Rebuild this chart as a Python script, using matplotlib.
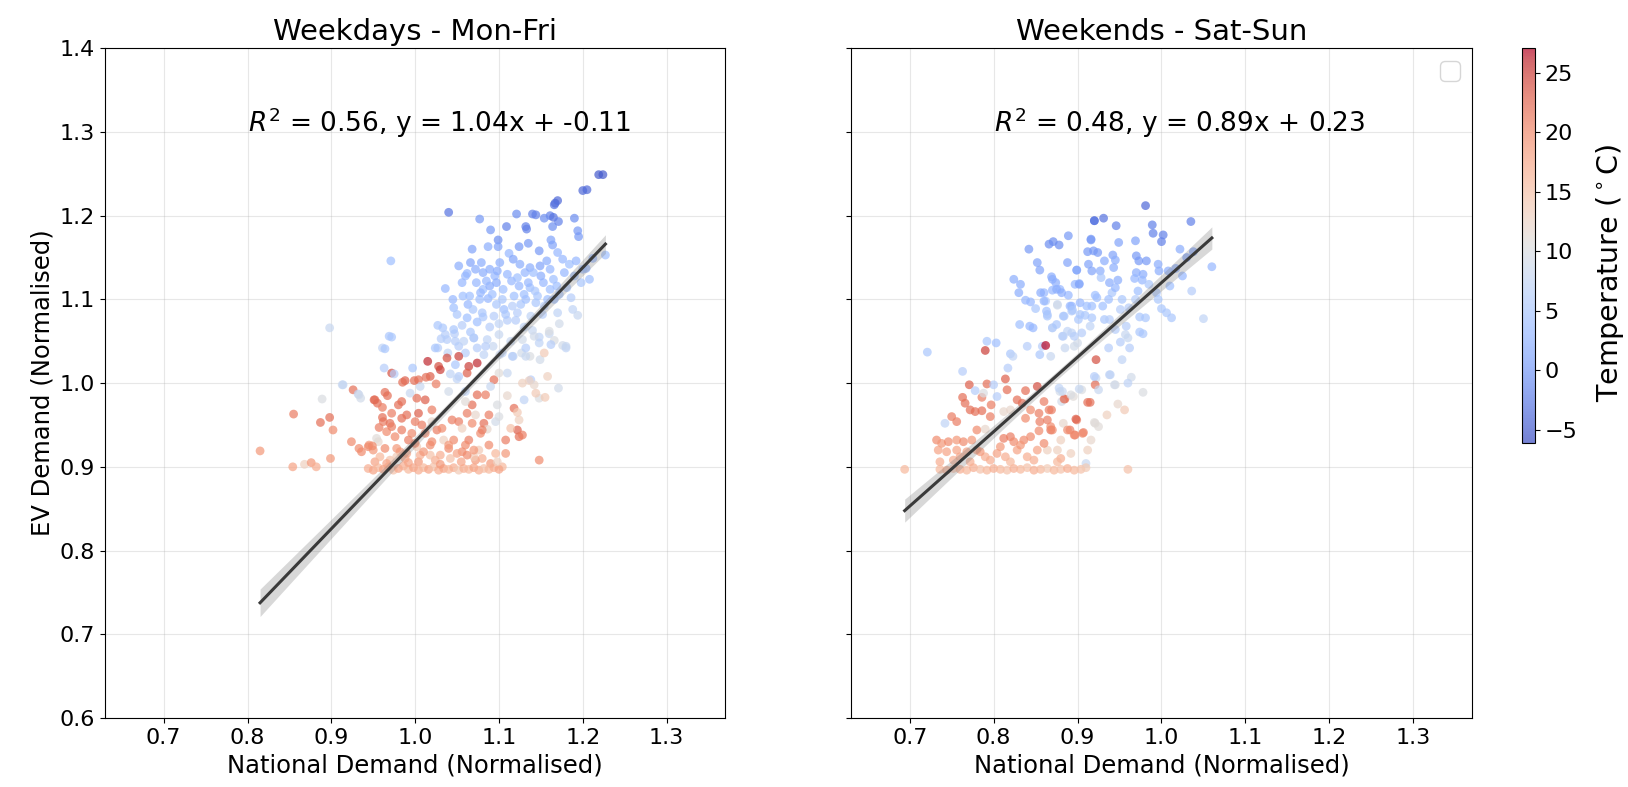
import numpy as np
import matplotlib
matplotlib.use('Agg')
import matplotlib.pyplot as plt

# Weekdays (Mon-Fri): national demand, EV demand, temperature
wd_x = [1.219,1.224,1.200,1.205,1.167,1.170,1.166,1.040,1.077,1.121,
        1.140,1.144,1.161,1.165,1.190,1.109,1.090,1.132,1.133,1.154,
        1.164,1.171,1.194,1.195,1.099,1.099,1.135,1.124,1.162,1.164,
        1.068,1.087,1.112,1.148,1.170,1.227,1.212,1.204,1.052,1.066,
        1.079,1.081,1.089,1.095,1.101,1.117,1.125,1.131,1.137,1.141,
        1.149,1.157,1.161,1.176,1.184,1.192,1.190,1.198,1.208,1.062,
        1.056,1.036,1.073,1.081,1.089,1.097,1.105,1.115,1.124,1.137,
        1.143,1.153,1.161,1.169,1.181,1.045,1.046,1.057,1.063,1.069,
        1.077,1.087,1.097,1.106,1.116,1.126,1.132,1.144,1.154,1.166,
        1.188,1.194,1.027,1.033,1.056,1.066,1.074,1.081,1.089,1.100,
        1.110,1.120,1.130,1.140,1.148,1.160,1.172,1.176,1.166,1.047,
        1.048,1.031,0.969,0.961,0.971,0.898,1.027,1.039,1.060,1.074,
        1.082,1.093,1.101,1.117,1.127,1.137,1.149,1.180,1.154,1.132,
        1.116,1.015,1.028,1.018,1.038,1.052,1.064,1.074,1.062,1.048,
        1.052,1.094,1.100,1.110,1.128,1.138,1.158,1.171,1.148,1.130,
        1.144,1.074,1.084,1.090,1.060,1.068,1.098,1.118,1.088,1.072,
        1.062,1.052,1.082,1.096,1.124,1.122,1.124,1.108,1.114,1.078,
        1.064,1.046,1.088,1.096,1.108,1.076,1.056,1.040,1.072,1.090,
        1.104,1.148,0.935,0.955,0.967,0.972,0.963,0.964,0.972,0.988,
        1.004,1.002,1.012,0.984,0.994,1.006,0.980,0.972,0.962,0.970,
        0.990,1.004,1.020,1.000,0.984,0.966,0.956,0.976,0.992,1.012,
        1.026,0.936,0.950,0.964,0.982,1.002,1.018,1.034,0.952,0.970,
        0.988,1.004,1.024,0.985,0.999,1.013,1.025,0.914,0.926,0.932,
        0.951,0.964,0.889,0.855,0.887,0.898,0.902,0.815,0.924,0.933,
        0.945,0.899,0.854,0.868,0.876,0.882,0.913,0.933,0.944,0.949,
        0.952,0.957,0.961,0.961,0.954,0.975,0.997,1.042,1.050,1.030,
        0.944,0.950,0.956,0.962,0.968,0.974,0.980,0.986,0.992,0.998,
        1.004,1.010,1.016,1.022,1.028,1.034,1.040,1.046,1.052,1.058,
        1.064,1.070,1.076,1.082,1.088,1.094,1.100,0.958,1.018,1.070,
        0.966,0.978,0.992,1.006,1.030,1.042,1.055,1.062,1.080,1.098,
        1.110,1.122,1.136,1.142,1.155,1.128,1.100,1.086,1.060,1.040,
        1.024,1.038,1.070,1.052,1.084,1.104,1.132,1.148,1.162,1.180,
        1.060,1.072,1.085,1.098,1.110,1.122,1.135,1.150,1.165,1.178,
        1.065,1.078,1.092,1.104,1.118,1.130,1.146,1.158,1.172,1.186,
        1.050,1.062,1.080,1.094,1.108,1.122,1.138,1.152,1.170,1.200,
        1.036,1.046,1.058,1.070,1.086,1.100,1.114,1.128,1.142,1.160,
        0.978,0.990,1.000,1.010,1.020,1.030,1.040,1.050,1.060,1.070,
        0.972,0.984,0.996,1.008,1.020,1.032,1.044,1.056,1.068,1.080]
wd_y = [1.249,1.249,1.230,1.231,1.215,1.218,1.213,1.204,1.196,1.202,
        1.202,1.201,1.200,1.198,1.197,1.187,1.183,1.187,1.184,1.197,
        1.187,1.193,1.182,1.175,1.171,1.163,1.167,1.163,1.171,1.165,
        1.160,1.163,1.155,1.158,1.156,1.153,1.149,1.137,1.140,1.144,
        1.144,1.132,1.136,1.128,1.144,1.148,1.142,1.132,1.138,1.132,
        1.140,1.146,1.136,1.148,1.142,1.146,1.128,1.120,1.124,1.131,
        1.120,1.113,1.120,1.112,1.116,1.120,1.112,1.122,1.116,1.114,
        1.110,1.120,1.112,1.116,1.114,1.100,1.090,1.104,1.094,1.088,
        1.100,1.101,1.094,1.088,1.092,1.094,1.100,1.096,1.092,1.100,
        1.088,1.081,1.069,1.066,1.069,1.061,1.073,1.079,1.067,1.071,
        1.075,1.075,1.067,1.063,1.055,1.059,1.071,1.045,1.051,1.059,
        1.050,1.053,1.056,1.042,1.146,1.066,1.042,1.036,1.036,1.042,
        1.034,1.044,1.034,1.032,1.036,1.032,1.028,1.042,1.036,1.042,
        1.032,1.026,1.020,1.008,1.030,1.032,1.020,1.024,1.012,1.022,
        1.008,1.004,1.012,1.012,1.000,1.004,1.008,0.994,0.982,0.980,
        0.988,0.986,0.986,0.996,0.990,0.974,0.974,0.970,0.962,0.962,
        0.964,0.954,0.952,0.954,0.956,0.944,0.936,0.932,0.946,0.940,
        0.932,0.932,0.926,0.916,0.916,0.920,0.918,0.922,0.908,0.904,
        0.900,0.908,0.982,0.976,0.985,1.012,1.018,1.041,1.055,1.003,
        1.004,0.982,0.980,0.978,0.988,0.996,0.974,0.964,0.954,0.952,
        0.962,0.964,0.968,0.954,0.944,0.942,0.930,0.936,0.932,0.940,
        0.944,0.918,0.920,0.922,0.918,0.924,0.926,0.932,0.906,0.908,
        0.910,0.906,0.908,1.001,1.003,1.007,0.999,0.998,0.992,0.987,
        0.980,0.989,0.981,0.963,0.953,0.959,0.944,0.919,0.930,0.922,
        0.926,0.910,0.900,0.903,0.905,0.900,0.998,0.986,0.924,0.925,
        0.980,0.947,0.959,0.971,0.934,1.011,1.018,1.011,1.005,1.016,
        0.898,0.896,0.899,0.897,0.900,0.896,0.898,0.901,0.897,0.899,
        0.896,0.899,0.897,0.900,0.896,0.898,0.897,0.899,0.896,0.898,
        0.897,0.899,0.896,0.898,0.897,0.899,0.897,0.912,0.914,0.912,
        0.904,0.912,0.905,0.914,0.903,0.910,0.906,0.914,0.910,0.906,
        0.985,0.965,1.003,0.998,0.983,0.938,0.960,0.945,0.978,0.990,
        1.042,1.052,1.054,1.044,1.044,1.036,1.032,1.048,1.046,1.044,
        1.128,1.136,1.122,1.134,1.130,1.126,1.120,1.128,1.124,1.132,
        1.104,1.108,1.106,1.100,1.104,1.106,1.104,1.100,1.106,1.102,
        1.082,1.078,1.084,1.080,1.082,1.084,1.080,1.082,1.084,1.136,
        1.058,1.064,1.050,1.054,1.052,1.058,1.050,1.052,1.056,1.062,
        0.922,0.916,0.928,0.918,0.930,0.914,0.926,0.916,0.926,0.920,
        0.948,0.958,0.940,0.950,0.954,0.946,0.956,0.946,0.952,0.944]
wd_t = [-5,-5,-4,-4,-4,-4,-3,-3,0,-1,
        -2,-2,-2,-3,-1,-2,0,-2,-2,-1,
        -1,-2,0,0,-1,1,0,0,1,1,
        1,2,3,0,3,4,3,3,2,1,
        2,2,2,3,2,1,2,3,2,4,
        1,2,3,3,4,3,4,5,4,3,
        3,3,3,4,2,2,4,3,3,4,
        5,3,4,4,5,3,4,4,3,5,
        4,3,5,4,6,5,4,5,6,4,
        7,8,5,5,6,5,4,5,6,7,
        6,6,7,8,7,8,9,9,10,6,
        6,6,5,7,4,8,6,7,6,6,
        7,8,9,8,9,10,9,7,14,6,
        6,26,24,23,24,25,25,26,23,5,
        6,22,11,8,13,6,13,9,10,7,
        14,22,21,8,7,22,10,22,21,12,
        21,21,22,9,13,23,22,21,15,20,
        21,20,20,16,19,14,20,20,19,19,
        16,20,9,22,22,24,6,5,5,23,
        22,22,23,22,8,8,22,21,21,22,
        22,23,21,21,21,20,12,20,21,20,
        21,20,19,20,19,14,20,13,18,15,
        18,19,17,22,22,22,21,7,22,7,
        23,22,10,21,22,22,20,19,20,20,
        19,19,18,13,19,17,8,9,20,20,
        22,21,22,21,11,6,5,7,7,25,
        17,18,16,18,17,15,18,17,16,18,
        17,16,18,15,17,18,16,17,14,17,
        16,18,17,15,16,17,18,16,15,14,
        18,14,18,17,19,15,18,20,17,13,
        12,14,13,12,14,21,10,12,11,9,
        5,6,5,6,6,7,8,7,6,8,
        3,2,3,2,3,4,3,2,4,3,
        4,3,4,5,4,4,5,4,5,6,
        5,4,5,6,5,6,7,6,7,4,
        6,5,7,6,7,8,8,9,9,10,
        19,18,20,19,20,17,19,18,20,19,
        21,22,20,21,12,20,21,13,20,21]

# Weekends (Sat-Sun)
we_x = [0.981,0.920,0.931,0.946,0.989,0.990,1.002,1.000,1.035,0.889,
        0.866,0.871,0.916,0.949,0.969,1.022,1.038,1.030,0.912,0.924,
        0.942,0.970,0.973,0.982,0.888,0.913,0.917,0.932,0.945,0.927,
        0.943,0.970,0.978,0.996,0.997,1.008,1.017,1.060,0.869,0.874,
        0.899,0.897,0.902,0.938,0.948,0.968,0.977,0.928,0.860,0.870,
        0.879,0.889,0.921,0.923,0.941,1.036,0.994,0.862,0.876,0.893,
        0.903,0.917,0.937,0.953,0.969,0.864,0.884,0.893,0.903,0.917,
        0.932,0.951,0.961,1.000,1.012,1.006,1.050,0.974,0.981,0.870,
        0.883,0.893,0.938,0.945,0.957,0.960,0.974,0.978,0.858,0.868,
        0.885,0.896,0.900,0.937,0.951,0.962,0.953,0.922,0.862,0.939,
        0.964,0.922,0.921,0.945,0.978,0.925,0.905,0.895,0.885,0.915,
        0.879,0.881,0.860,0.869,0.899,0.921,0.883,0.864,0.891,0.907,
        0.897,0.868,0.721,0.763,0.790,0.792,0.803,0.820,0.823,0.817,
        0.814,0.831,0.843,0.847,0.840,0.855,0.842,0.852,0.855,0.878,
        0.824,0.832,0.830,0.838,0.844,0.850,0.856,0.860,0.863,0.870,
        0.875,0.881,0.899,0.902,0.916,0.919,0.920,0.876,0.891,0.911,
        0.864,0.870,0.875,0.883,0.894,0.882,0.888,0.896,0.901,0.909,
        0.694,0.771,0.792,0.800,0.778,0.763,0.766,0.772,0.786,0.788,
        0.816,0.838,0.852,0.828,0.834,0.804,0.797,0.750,0.756,0.778,
        0.786,0.796,0.812,0.820,0.854,0.855,0.866,0.844,0.838,0.884,
        0.912,0.898,0.920,0.878,0.882,0.892,0.902,0.920,0.938,0.944,
        0.960,0.742,0.732,0.738,0.746,0.756,0.764,0.774,0.780,0.790,
        0.812,0.820,0.824,0.836,0.844,0.854,0.868,0.870,0.888,0.896,
        0.906,0.916,0.880,0.876,0.734,0.744,0.756,0.768,0.780,0.790,
        0.804,0.814,0.828,0.840,0.852,0.864,0.880,0.892,0.912,0.910,
        0.736,0.752,0.736,0.744,0.752,0.760,0.768,0.776,0.784,0.792,
        0.800,0.808,0.816,0.824,0.832,0.840,0.848,0.856,0.864,0.872,
        0.880,0.888,0.896,0.904,0.910,0.960,0.925,0.935,0.948,0.956,
        0.760,0.772,0.784,0.796,0.808,0.820,0.832,0.848,0.860,0.876,
        0.905,0.915,0.930,0.945,0.958,0.972,0.985,0.996,1.010,1.025]
we_y = [1.212,1.194,1.197,1.188,1.189,1.179,1.177,1.169,1.193,1.176,
        1.166,1.169,1.172,1.168,1.170,1.160,1.157,1.150,1.157,1.156,
        1.153,1.152,1.146,1.146,1.144,1.142,1.134,1.146,1.147,1.134,
        1.138,1.132,1.130,1.142,1.134,1.134,1.137,1.139,1.127,1.120,
        1.135,1.118,1.119,1.120,1.123,1.125,1.123,1.126,1.108,1.111,
        1.112,1.105,1.105,1.102,1.108,1.110,1.108,1.098,1.094,1.092,
        1.096,1.092,1.100,1.100,1.100,1.082,1.080,1.086,1.082,1.078,
        1.076,1.088,1.090,1.089,1.078,1.084,1.077,1.079,1.078,1.066,
        1.056,1.060,1.076,1.064,1.058,1.054,1.061,1.059,1.044,1.032,
        1.042,1.044,1.048,1.042,1.049,1.042,1.028,1.028,1.045,1.010,
        1.007,1.006,0.998,0.998,0.989,0.992,0.992,0.984,0.981,0.977,
        0.990,0.978,0.978,0.968,0.956,0.952,0.952,0.956,0.944,0.941,
        0.938,0.944,1.037,1.014,1.039,1.050,1.048,1.035,1.032,1.018,
        1.005,1.070,1.068,1.066,1.044,1.034,1.160,1.144,1.135,1.165,
        1.124,1.118,1.108,1.099,1.097,1.089,1.108,1.098,1.086,1.124,
        1.112,1.108,1.135,1.118,1.171,1.158,1.194,1.093,1.092,1.092,
        1.080,1.066,1.070,1.080,1.087,1.056,1.062,1.056,1.076,1.081,
        0.897,0.998,0.999,0.998,0.991,0.983,0.976,0.968,0.983,0.988,
        0.992,0.991,0.996,0.980,0.976,0.984,0.974,0.960,0.954,0.966,
        0.967,0.960,0.966,0.968,0.964,0.954,0.968,0.968,0.958,0.981,
        0.977,0.957,0.953,0.994,0.990,0.986,0.993,1.008,1.010,0.998,
        1.000,0.952,0.932,0.928,0.930,0.932,0.930,0.932,0.944,0.945,
        0.934,0.936,0.930,0.932,0.936,0.943,0.948,0.944,0.944,0.938,
        0.940,0.932,0.932,0.920,0.920,0.918,0.920,0.918,0.920,0.912,
        0.916,0.912,0.920,0.912,0.920,0.920,0.910,0.916,0.920,0.904,
        0.906,0.908,0.897,0.896,0.898,0.897,0.896,0.899,0.897,0.896,
        0.898,0.897,0.896,0.898,0.897,0.899,0.896,0.897,0.898,0.896,
        0.897,0.898,0.896,0.897,0.899,0.897,0.948,0.962,0.975,0.968,
        0.912,0.906,0.918,0.908,0.924,0.906,0.926,0.908,0.928,0.906,
        1.060,1.068,1.092,1.114,1.068,1.110,1.118,1.100,1.116,1.128]
we_t = [-4,-3,-3,-2,-2,-2,-2,-2,-2,0,
        -1,-1,0,1,1,2,1,1,0,0,
        1,0,0,0,1,1,1,2,2,2,
        2,2,2,2,2,2,2,3,2,2,
        3,3,3,2,2,3,3,5,3,3,
        3,3,4,4,5,6,5,6,8,3,
        3,4,4,5,6,6,6,6,5,5,
        5,6,6,5,5,5,7,5,5,7,
        7,7,6,6,8,8,5,5,6,8,
        8,9,9,6,6,6,7,24,27,7,
        9,8,22,10,10,8,10,11,22,22,
        9,9,21,21,21,11,12,21,21,21,
        21,22,5,6,25,5,4,5,7,6,
        23,4,3,3,6,5,0,1,1,-1,
        2,2,2,3,3,5,2,3,4,2,
        2,2,1,1,0,0,-3,9,3,4,
        5,6,5,5,5,6,7,6,5,5,
        16,23,22,6,6,22,22,22,21,10,
        22,22,24,22,22,6,21,21,21,22,
        22,21,12,12,21,21,21,20,20,22,
        22,23,11,7,8,10,8,6,7,9,
        7,7,20,19,20,19,20,19,20,12,
        21,21,20,20,20,20,20,20,20,20,
        20,12,13,13,18,18,18,18,18,17,
        18,17,18,17,18,13,17,13,13,8,
        17,17,16,17,15,17,16,17,15,16,
        17,16,15,17,16,15,17,16,14,16,
        15,17,16,15,14,15,11,13,12,14,
        18,17,19,17,19,16,19,17,20,16,
        6,7,4,3,6,4,5,5,4,3]

# fitted lines shown in the chart (slope, intercept, R^2)
wd_fit = (1.04, -0.11, 0.56)
we_fit = (0.89, 0.23, 0.48)

t_min, t_max = -6.1, 27.1

fig = plt.figure(figsize=(16.28, 7.87), dpi=100)
ax1 = fig.add_axes([0.0645, 0.0877, 0.381, 0.851])
ax2 = fig.add_axes([0.5227, 0.0877, 0.3815, 0.851], sharey=ax1)
cax = fig.add_axes([0.9349, 0.437, 0.008, 0.502])


def panel(ax, xs, ys, ts, fit, title):
    xs = np.array(xs); ys = np.array(ys)
    sc = ax.scatter(xs, ys, c=ts, cmap='coolwarm', vmin=t_min, vmax=t_max,
                    s=40, alpha=0.7, linewidths=0, zorder=2)
    m, b, r2 = fit
    # regression line + confidence band over the data range
    xx = np.linspace(xs.min(), xs.max(), 100)
    yy = m * xx + b
    res = ys - (m * xs + b)
    s = np.sqrt(np.sum(res ** 2) / (len(xs) - 2))
    sxx = np.sum((xs - xs.mean()) ** 2)
    half = 1.96 * s * np.sqrt(1 / len(xs) + (xx - xs.mean()) ** 2 / sxx) * 0.6
    ax.fill_between(xx, yy - half, yy + half, color='gray', alpha=0.3,
                    linewidth=0, zorder=3)
    ax.plot(xx, yy, color='#3a3a3a', lw=2.2, zorder=4)
    ax.text(0.8, 1.3, r'$R^2$ = %.2f, y = %.2fx + %.2f' % (r2, m, b),
            fontsize=19)
    ax.set_title(title, fontsize=21)
    ax.set_xlabel('National Demand (Normalised)', fontsize=17.5)
    ax.set_xlim(0.63, 1.37)
    ax.set_ylim(0.6, 1.4)
    ax.set_xticks([0.7, 0.8, 0.9, 1.0, 1.1, 1.2, 1.3])
    ax.grid(True, alpha=0.3)
    ax.tick_params(labelsize=16)
    return sc


sc = panel(ax1, wd_x, wd_y, wd_t, wd_fit, 'Weekdays - Mon-Fri')
panel(ax2, we_x, we_y, we_t, we_fit, 'Weekends - Sat-Sun')
ax1.set_ylabel('EV Demand (Normalised)', fontsize=17.5)
plt.setp(ax2.get_yticklabels(), visible=False)
ax2.legend(handles=[], loc='upper right', fontsize=18)

cb = fig.colorbar(sc, cax=cax)
cb.set_ticks([-5, 0, 5, 10, 15, 20, 25])
cb.ax.tick_params(labelsize=16)
cb.set_label(r'Temperature ($^\circ$C)', fontsize=20.5, labelpad=12)
cb.ax.yaxis.label.set_y(0.43)

fig.savefig('out.png', dpi=100)
